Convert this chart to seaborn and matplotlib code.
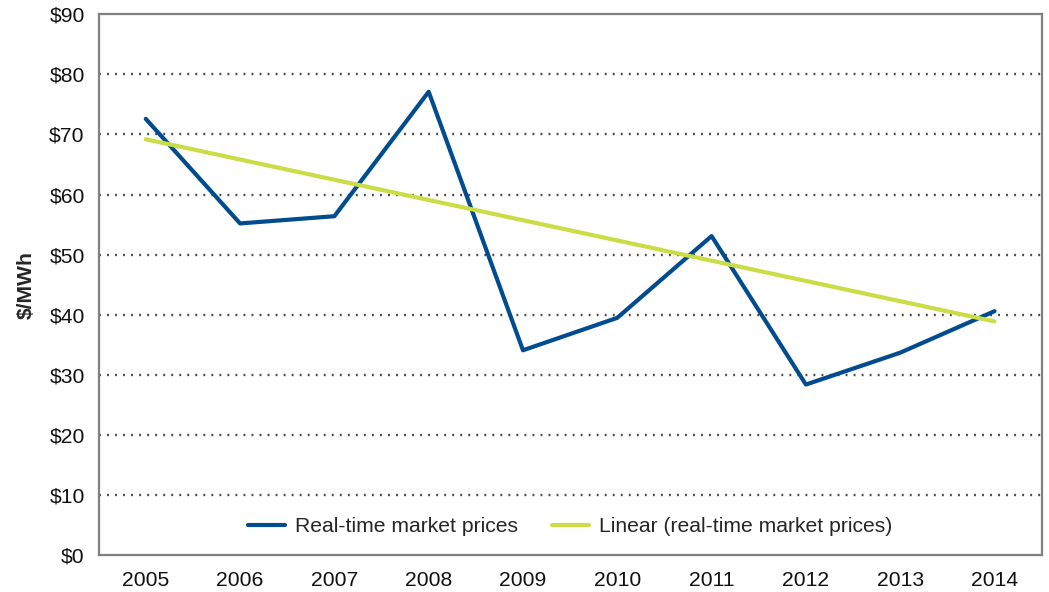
import matplotlib
matplotlib.use("Agg")
import matplotlib.pyplot as plt
import seaborn as sns
import pandas as pd

years = ["2005", "2006", "2007", "2008", "2009", "2010", "2011", "2012", "2013", "2014"]
rt_prices = [72.6, 55.2, 56.4, 77.1, 34.1, 39.5, 53.1, 28.4, 33.7, 40.6]
trend_years = ["2005", "2014"]
trend_values = [69.2, 38.9]
y_ticks = [0, 10, 20, 30, 40, 50, 60, 70, 80, 90]

sns.set_theme(style="white")
plt.rcParams["font.family"] = ["Liberation Sans", "DejaVu Sans"]

blue = "#004C8F"
green = "#CADD45"
frame = "#808080"
fs = 15.2

df = pd.DataFrame({"year": years, "price": rt_prices})
pos = {y: i for i, y in enumerate(years)}
trend_df = pd.DataFrame({"x": [pos[y] for y in trend_years], "price": trend_values})
df["x"] = [pos[y] for y in years]

fig, ax = plt.subplots(figsize=(10.49, 5.92), dpi=100)
fig.subplots_adjust(left=0.094, right=0.993, top=0.976, bottom=0.062)

sns.lineplot(data=df, x="x", y="price", ax=ax, color=blue, linewidth=3.0,
             label="Real-time market prices")
sns.lineplot(data=trend_df, x="x", y="price", ax=ax, color=green, linewidth=3.0,
             label="Linear (real-time market prices)")

ax.set_xlim(-0.5, len(years) - 0.5)
ax.set_ylim(0, 90)
ax.set_xticks(range(len(years)))
ax.set_xticklabels(years)
ax.set_yticks(y_ticks)
ax.set_yticklabels([f"${v}" for v in y_ticks])
ax.tick_params(axis="both", length=0, labelsize=fs, colors="#111111")
ax.tick_params(axis="x", pad=11)
ax.tick_params(axis="y", pad=10)

for v in y_ticks[1:-1]:
    ax.axhline(v, color="#4a4a4a", linewidth=1.7, linestyle=(0, (0.8, 2.6)), zorder=0)

for s in ax.spines.values():
    s.set_color(frame)
    s.set_linewidth(1.6)

ax.set_xlabel("")
ax.set_ylabel("$/MWh", fontsize=fs, fontweight="bold", labelpad=10)

leg = ax.legend(loc="lower center", bbox_to_anchor=(0.5, 0.0), ncol=2, frameon=False,
                fontsize=fs, handlelength=1.75, columnspacing=1.6, handletextpad=0.5)

fig.savefig("out.png", dpi=100)
